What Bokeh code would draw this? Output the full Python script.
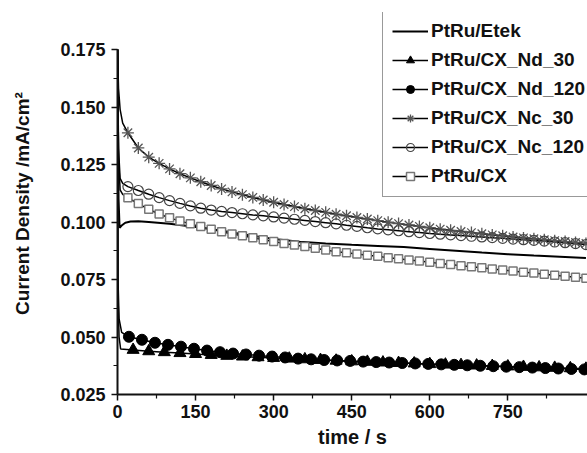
from bokeh.plotting import figure
from bokeh.models import Range1d, FixedTicker, NumeralTickFormatter, Legend, LegendItem
from bokeh.embed import file_html
from bokeh.resources import INLINE

# ---------------- data (time / s, current density / mA cm^-2) ----------------
series_names = ["PtRu/Etek", "PtRu/CX_Nd_30", "PtRu/CX_Nd_120",
                "PtRu/CX_Nc_30", "PtRu/CX_Nc_120", "PtRu/CX"]

t_etek = [0, 1, 2, 4, 8, 15, 25, 40, 60, 100, 150, 200, 250, 300, 350, 400,
          450, 500, 550, 600, 650, 700, 750, 800, 850, 900]
j_etek = [0.175, 0.140, 0.110, 0.0975, 0.0985, 0.0997, 0.1002, 0.1003, 0.1000,
          0.0992, 0.0978, 0.0962, 0.0944, 0.0926, 0.0914, 0.0907, 0.0901,
          0.0896, 0.0891, 0.0883, 0.0875, 0.0867, 0.0860, 0.0854, 0.0849, 0.0843]

# initial transients (line only)
t_nd30_head = [0, 1, 3, 6]
j_nd30_head = [0.175, 0.068, 0.050, 0.0448]
t_nd120_head = [0, 1, 3, 8]
j_nd120_head = [0.175, 0.075, 0.058, 0.0520]
t_nc30_head = [0, 2, 5, 10]
j_nc30_head = [0.175, 0.158, 0.149, 0.143]
t_nc120_head = [0, 2, 5, 10]
j_nc120_head = [0.175, 0.132, 0.119, 0.1168]
t_cx_head = [0, 2, 5, 10]
j_cx_head = [0.175, 0.128, 0.114, 0.1120]

# marked points
t_nd30 = [30, 60, 90, 120, 150, 180, 210, 240, 270, 300, 330, 360, 390, 420, 450,
          480, 510, 540, 570, 600, 630, 660, 690, 720, 750, 780, 810, 840, 870, 900]
j_nd30 = [0.0444, 0.0438, 0.0434, 0.0430, 0.0426, 0.0422, 0.0418, 0.0415, 0.0412,
          0.0409, 0.0406, 0.0403, 0.0400, 0.0397, 0.0394, 0.0392, 0.0389, 0.0387,
          0.0385, 0.0382, 0.0380, 0.0378, 0.0376, 0.0374, 0.0372, 0.0370, 0.0368,
          0.0366, 0.0364, 0.0362]

t_nd120 = [22, 47, 72, 97, 122, 147, 172, 197, 222, 247, 272, 297, 322, 347, 372,
           397, 422, 447, 472, 497, 522, 547, 572, 597, 622, 647, 672, 697, 722,
           747, 772, 797, 822, 847, 872, 897]
j_nd120 = [0.0501, 0.0488, 0.0475, 0.0466, 0.0458, 0.0449, 0.0441, 0.0434, 0.0428,
           0.0424, 0.0419, 0.0415, 0.0411, 0.0406, 0.0403, 0.0400, 0.0398, 0.0396,
           0.0393, 0.0391, 0.0389, 0.0387, 0.0385, 0.0383, 0.0381, 0.0379, 0.0377,
           0.0375, 0.0373, 0.0371, 0.0369, 0.0367, 0.0365, 0.0363, 0.0361, 0.0359]

t_nc = [20, 40, 60, 80, 100, 120, 140, 160, 180, 200, 220, 240, 260, 280, 300,
        320, 340, 360, 380, 400, 420, 440, 460, 480, 500, 520, 540, 560, 580, 600,
        620, 640, 660, 680, 700, 720, 740, 760, 780, 800, 820, 840, 860, 880, 900]
j_nc30 = [0.1388, 0.1322, 0.1282, 0.1255, 0.1231, 0.1210, 0.1192, 0.1175, 0.1159,
          0.1144, 0.1131, 0.1119, 0.1107, 0.1096, 0.1086, 0.1076, 0.1067, 0.1058,
          0.1050, 0.1042, 0.1034, 0.1027, 0.1020, 0.1013, 0.1006, 0.0999, 0.0993,
          0.0987, 0.0981, 0.0975, 0.0969, 0.0964, 0.0959, 0.0954, 0.0949, 0.0944,
          0.0940, 0.0935, 0.0931, 0.0927, 0.0923, 0.0919, 0.0915, 0.0911, 0.0907]
j_nc120 = [0.1154, 0.1137, 0.1121, 0.1106, 0.1093, 0.1081, 0.1070, 0.1060, 0.1052,
           0.1046, 0.1041, 0.1036, 0.1031, 0.1027, 0.1022, 0.1017, 0.1012, 0.1007,
           0.1002, 0.0997, 0.0992, 0.0986, 0.0981, 0.0975, 0.0970, 0.0966, 0.0962,
           0.0958, 0.0954, 0.0950, 0.0947, 0.0944, 0.0941, 0.0938, 0.0935, 0.0932,
           0.0929, 0.0926, 0.0923, 0.0920, 0.0917, 0.0913, 0.0910, 0.0906, 0.0902]
j_cx = [0.1105, 0.1080, 0.1055, 0.1035, 0.1018, 0.1004, 0.0992, 0.0980, 0.0969,
        0.0958, 0.0948, 0.0940, 0.0932, 0.0923, 0.0915, 0.0907, 0.0900, 0.0893,
        0.0886, 0.0878, 0.0871, 0.0866, 0.0861, 0.0856, 0.0851, 0.0845, 0.0840,
        0.0835, 0.0830, 0.0825, 0.0820, 0.0815, 0.0810, 0.0806, 0.0801, 0.0796,
        0.0791, 0.0787, 0.0782, 0.0778, 0.0773, 0.0769, 0.0764, 0.0760, 0.0755]

x_ticks = [0, 150, 300, 450, 600, 750]
x_minor = [75, 225, 375, 525, 675, 825]
y_ticks = [0.025, 0.050, 0.075, 0.100, 0.125, 0.150, 0.175]
y_minor = [0.0375, 0.0625, 0.0875, 0.1125, 0.1375, 0.1625]

# ---------------- figure ----------------
FONT = "Liberation Sans"
# frame extends above 0.175 so the legend (which overhangs the axis top) is not clipped
p = figure(width=587, height=453, output_backend="svg", toolbar_location=None,
           x_range=Range1d(0, 903), y_range=Range1d(0.025, 0.1911),
           min_border_left=117, min_border_right=0, min_border_top=12,
           min_border_bottom=59)
p.outline_line_color = None
p.xgrid.visible = False
p.ygrid.visible = False
p.background_fill_color = "white"
p.border_fill_color = "white"

for ax in (p.xaxis[0], p.yaxis[0]):
    ax.axis_line_width = 2
    ax.axis_line_color = "#111111"
    ax.major_tick_line_color = "#111111"
    ax.major_tick_line_width = 1.5
    ax.minor_tick_line_color = "#111111"
    ax.minor_tick_line_width = 1.2
    ax.major_tick_in = 0
    ax.major_tick_out = 6
    ax.minor_tick_in = 0
    ax.minor_tick_out = 4
    ax.major_label_text_font = FONT
    ax.major_label_text_font_style = "bold"
    ax.major_label_text_font_size = "18px"
    ax.major_label_text_color = "#111111"
    ax.axis_label_text_font = FONT
    ax.axis_label_text_font_style = "bold"
    ax.axis_label_text_color = "#111111"

p.xaxis[0].ticker = FixedTicker(ticks=x_ticks, minor_ticks=x_minor)
p.yaxis[0].ticker = FixedTicker(ticks=y_ticks, minor_ticks=y_minor)
p.yaxis[0].bounds = (0.025, 0.175)
p.xaxis[0].formatter = NumeralTickFormatter(format="0")
p.yaxis[0].formatter = NumeralTickFormatter(format="0.000")
p.xaxis[0].axis_label = "time / s"
p.xaxis[0].axis_label_text_font_size = "20px"
p.xaxis[0].major_label_standoff = 4
p.xaxis[0].axis_label_standoff = 5
p.yaxis[0].axis_label = "Current Density /mA/cm²"
p.yaxis[0].axis_label_text_font_size = "19px"
p.yaxis[0].major_label_standoff = 6
p.yaxis[0].axis_label_standoff = 24

# ---------------- glyphs ----------------
r_etek = p.line(t_etek, j_etek, line_color="black", line_width=2)

l_nd30 = p.line(t_nd30_head + t_nd30, j_nd30_head + j_nd30, line_color="black", line_width=1.5)
l_nd120 = p.line(t_nd120_head + t_nd120, j_nd120_head + j_nd120, line_color="black", line_width=1.5)
l_nc30 = p.line(t_nc30_head + t_nc, j_nc30_head + j_nc30, line_color="black", line_width=1.5)
l_nc120 = p.line(t_nc120_head + t_nc, j_nc120_head + j_nc120, line_color="black", line_width=1.5)
l_cx = p.line(t_cx_head + t_nc, j_cx_head + j_cx, line_color="black", line_width=1.5)

m_nc30 = p.scatter(t_nc, j_nc30, marker="asterisk", size=12, line_color="#555555", line_width=1.3)
m_nc120 = p.scatter(t_nc, j_nc120, marker="circle", size=10, fill_color=None,
                    line_color="#444444", line_width=1.2)
m_cx = p.scatter(t_nc, j_cx, marker="square", size=8, fill_color="white",
                 line_color="#777777", line_width=1.5)
m_nd120 = p.scatter(t_nd120, j_nd120, marker="circle", size=11, fill_color="black",
                    line_color="black")
m_nd30 = p.scatter(t_nd30, j_nd30, marker="triangle", size=12, fill_color="black",
                   line_color="black")

items = [
    LegendItem(label=series_names[0], renderers=[r_etek]),
    LegendItem(label=series_names[1], renderers=[l_nd30, m_nd30]),
    LegendItem(label=series_names[2], renderers=[l_nd120, m_nd120]),
    LegendItem(label=series_names[3], renderers=[l_nc30, m_nc30]),
    LegendItem(label=series_names[4], renderers=[l_nc120, m_nc120]),
    LegendItem(label=series_names[5], renderers=[l_cx, m_cx]),
]
legend = Legend(items=items, location=(265, 197))
legend.label_text_font = FONT
legend.label_text_font_style = "bold"
legend.label_text_font_size = "19px"
legend.label_text_color = "#111111"
legend.glyph_width = 36
legend.glyph_height = 20
legend.label_height = 20
legend.label_standoff = 3
legend.spacing = 7
legend.padding = 9
legend.margin = 0
legend.border_line_color = "#333333"
legend.border_line_width = 1
legend.background_fill_color = "white"
legend.background_fill_alpha = 1.0
p.add_layout(legend)

open("out.html", "w").write(file_html(p, INLINE))
